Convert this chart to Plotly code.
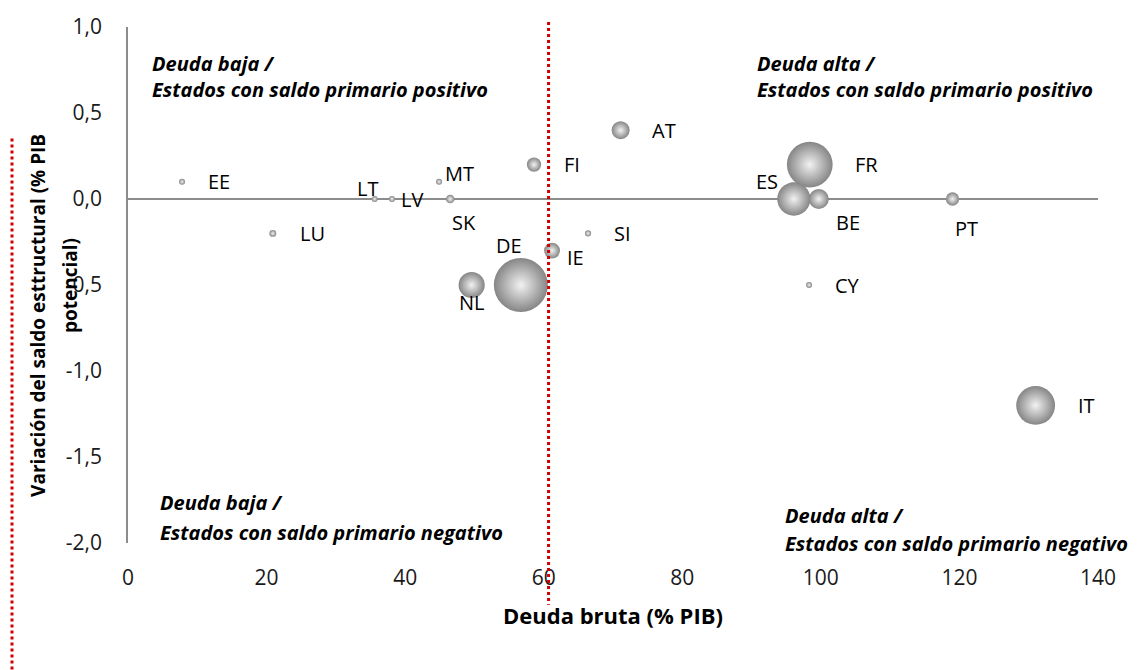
import plotly.graph_objects as go

# Country codes, gross debt (% GDP), change in structural balance (% potential GDP)
countries = ["DE", "FR", "IT", "ES", "NL", "BE", "AT", "IE", "FI", "PT",
             "SK", "LU", "SI", "LT", "LV", "EE", "CY", "MT"]
debt = [56.7, 98.4, 131.0, 96.1, 49.6, 99.7, 71.1, 61.2, 58.6, 119.0,
        46.5, 20.9, 66.4, 35.6, 38.1, 7.8, 98.3, 44.9]
balance_change = [-0.5, 0.2, -1.2, 0.0, -0.5, 0.0, 0.4, -0.3, 0.2, 0.0,
                  0.0, -0.2, -0.2, 0.0, 0.0, 0.1, -0.5, 0.1]
# Bubble size: economic weight (GDP, bn EUR)
gdp = [2900, 2080, 1500, 1100, 680, 400, 320, 250, 205, 175,
       75, 48, 37, 35, 24, 19, 17, 8]

x_ticks = [0, 20, 40, 60, 80, 100, 120, 140]
y_ticks = [-2.0, -1.5, -1.0, -0.5, 0.0, 0.5, 1.0]
y_tick_text = ["-2,0", "-1,5", "-1,0", "-0,5", "0,0", "0,5", "1,0"]

debt_threshold = 60.7

# Pixel offsets of each data label relative to its bubble
label_offsets = {
    "EE": (37, 0), "LU": (40, 0), "LT": (-7, 11), "LV": (20, 0), "MT": (20, 8),
    "SK": (14, -23), "FI": (38, 0), "AT": (43, 0), "SI": (34, 0), "IE": (23, -7),
    "DE": (-12, 40), "NL": (0, -17), "FR": (57, 0), "ES": (-27, 18), "BE": (29, -23),
    "PT": (14, -29), "CY": (38, 0), "IT": (51, 0),
}

FONT = "Open Sans"
max_diam = 54

fig = go.Figure()
fig.add_trace(go.Scatter(
    x=debt, y=balance_change, mode="markers",
    marker=dict(
        size=gdp, sizemode="area", sizeref=2 * max(gdp) / (max_diam ** 2),
        sizemin=3,
        color="#858585",
        gradient=dict(type="radial", color="#f2f2f2"),
        line=dict(width=0),
        opacity=1,
    ),
    hovertext=countries, showlegend=False,
))

annotations = []
for c, xv, yv in zip(countries, debt, balance_change):
    dx, dy = label_offsets[c]
    annotations.append(dict(
        x=xv, y=yv, xref="x", yref="y", text=c, showarrow=False,
        xshift=dx, yshift=dy, font=dict(family=FONT, size=20, color="#000000"),
    ))

quad_font = dict(family=FONT, size=20, color="#000000")
quad_notes = [
    (150, 62, "Deuda baja /"),
    (150, 88, "Estados con saldo primario positivo"),
    (755, 62, "Deuda alta /"),
    (755, 88, "Estados con saldo primario positivo"),
    (158, 502, "Deuda baja /"),
    (158, 532, "Estados con saldo primario negativo"),
    (783, 515, "Deuda alta /"),
    (783, 543, "Estados con saldo primario negativo"),
]
L, T, W, H = 128, 25, 970, 518
for px, py, txt in quad_notes:
    annotations.append(dict(
        x=(px - L) / W, y=(T + H - py) / H, xref="paper", yref="paper",
        text="<b><i>" + txt + "</i></b>", showarrow=False,
        xanchor="left", yanchor="middle", font=quad_font,
    ))

annotations.append(dict(
    x=(613 - L) / W, y=(T + H - 615) / H, xref="paper", yref="paper",
    text="<b>Deuda bruta (% PIB)</b>", showarrow=False,
    xanchor="center", yanchor="middle",
    font=dict(family=FONT, size=22, color="#000000"),
))
annotations.append(dict(
    x=(38 - L) / W, y=(T + H - 315) / H, xref="paper", yref="paper",
    text="<b>Variación del saldo esttructural (% PIB</b>", showarrow=False,
    textangle=-90, xanchor="center", yanchor="middle",
    font=dict(family=FONT, size=19, color="#000000"),
))
annotations.append(dict(
    x=(70 - L) / W, y=(T + H - 285) / H, xref="paper", yref="paper",
    text="<b>potencial)</b>", showarrow=False,
    textangle=-90, xanchor="center", yanchor="middle",
    font=dict(family=FONT, size=19, color="#000000"),
))

red_dot = dict(color="#d00000", width=3, dash="dot")
shapes = [
    dict(type="line", xref="x", yref="paper", x0=debt_threshold, x1=debt_threshold,
         y0=(T + H - 20) / H, y1=(T + H - 605) / H, line=red_dot),
    dict(type="line", xref="paper", yref="paper", x0=(12 - L) / W, x1=(12 - L) / W,
         y0=(T + H - 137) / H, y1=(T + H - 675) / H, line=red_dot),
]

fig.update_layout(
    width=1145, height=670,
    margin=dict(l=L, r=1145 - L - W, t=T, b=670 - T - H),
    paper_bgcolor="white", plot_bgcolor="white",
    annotations=annotations, shapes=shapes,
    xaxis=dict(
        range=[0, 140], tickvals=x_ticks, showgrid=False, zeroline=False,
        showline=False, ticks="", ticklabelstandoff=20,
        tickfont=dict(family=FONT, size=21, color="#1a1a1a"),
    ),
    yaxis=dict(
        range=[-2, 1], tickvals=y_ticks, ticktext=y_tick_text, showgrid=False,
        zeroline=True, zerolinecolor="#8c8c8c", zerolinewidth=1.5,
        showline=True, linecolor="#8c8c8c", linewidth=1.5, ticks="",
        ticklabelstandoff=20,
        tickfont=dict(family=FONT, size=21, color="#1a1a1a"),
    ),
)

fig.write_html("out.html")
